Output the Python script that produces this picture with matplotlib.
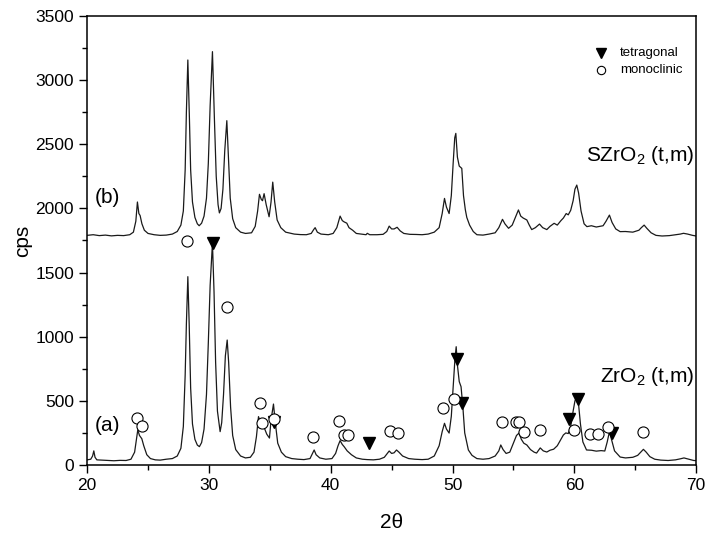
import matplotlib
matplotlib.use("Agg")
import matplotlib.pyplot as plt
from matplotlib.ticker import MultipleLocator

plt.rcParams['font.family'] = ['Liberation Sans', 'DejaVu Sans']
plt.rcParams['mathtext.fontset'] = 'custom'
plt.rcParams['mathtext.rm'] = 'Liberation Sans'
plt.rcParams['mathtext.it'] = 'Liberation Serif:italic'

# (b) SZrO2 pattern: 2theta, cps
b_x = [20.0, 20.5, 21.0, 21.5, 22.0, 22.5, 23.0, 23.5, 23.8, 24.0, 24.13, 24.25, 24.35, 24.5, 24.7, 25.0, 25.5, 26.0, 26.5, 27.0,
       27.4, 27.7, 27.9, 28.05, 28.15, 28.27, 28.4, 28.5, 28.65, 28.85, 29.05, 29.2, 29.4, 29.6, 29.8, 29.95, 30.1, 30.29, 30.45, 30.6,
       30.75, 30.86, 31.0, 31.15, 31.3, 31.47, 31.6, 31.75, 31.95, 32.2, 32.6, 33.0, 33.5, 33.8, 34.0, 34.15, 34.3, 34.4, 34.53, 34.7,
       34.94, 35.1, 35.24, 35.4, 35.6, 35.9, 36.3, 37.0, 37.5, 38.0, 38.4, 38.6, 38.72, 38.9, 39.2, 39.8, 40.2, 40.5, 40.77, 40.95,
       41.1, 41.32, 41.5, 41.8, 42.1, 42.5, 42.9, 43.0, 43.2, 43.8, 44.3, 44.6, 44.8, 45.0, 45.2, 45.45, 45.7, 46.0, 46.5, 47.0,
       47.5, 48.0, 48.5, 48.9, 49.15, 49.34, 49.5, 49.72, 49.9, 50.05, 50.18, 50.27, 50.4, 50.55, 50.76, 50.9, 51.05, 51.17, 51.4, 51.7,
       52.0, 52.5, 53.0, 53.5, 53.8, 54.1, 54.3, 54.6, 54.9, 55.2, 55.41, 55.6, 55.8, 56.1, 56.3, 56.5, 56.8, 57.14, 57.4, 57.74,
       58.0, 58.34, 58.6, 58.9, 59.1, 59.33, 59.5, 59.7, 59.9, 60.05, 60.2, 60.35, 60.55, 60.8, 61.03, 61.4, 61.8, 62.1, 62.36, 62.6,
       62.88, 63.1, 63.4, 63.76, 64.2, 64.8, 65.3, 65.5, 65.73, 65.95, 66.3, 66.7, 67.2, 67.8, 68.3, 68.7, 68.96, 69.3, 69.7, 70.0]
b_y = [1790, 1795, 1788, 1792, 1786, 1790, 1788, 1795, 1815, 1900, 2050, 1960, 1945, 1880, 1830, 1805, 1795, 1790, 1792, 1800,
       1820, 1870, 1980, 2300, 2750, 3157, 2700, 2300, 2050, 1930, 1880, 1865, 1885, 1940, 2080, 2350, 2800, 3222, 2700, 2250,
       2030, 1965, 2000, 2150, 2450, 2684, 2400, 2080, 1920, 1850, 1815, 1805, 1810, 1860, 1980, 2110, 2070, 2060, 2115, 2030,
       1935, 2050, 2205, 2050, 1910, 1850, 1815, 1800, 1796, 1795, 1805, 1835, 1850, 1815, 1800, 1795, 1805, 1850, 1940, 1905,
       1895, 1885, 1850, 1830, 1805, 1800, 1795, 1806, 1795, 1795, 1798, 1820, 1862, 1840, 1840, 1853, 1825, 1805, 1798, 1797,
       1795, 1800, 1815, 1850, 1960, 2078, 2010, 1960, 2100, 2350, 2550, 2585, 2400, 2330, 2312, 2100, 1990, 1930, 1870, 1820,
       1795, 1792, 1800, 1810, 1850, 1915, 1880, 1845, 1870, 1940, 1988, 1940, 1925, 1910, 1870, 1835, 1850, 1878, 1850, 1835,
       1860, 1884, 1870, 1905, 1925, 1960, 1950, 1985, 2060, 2150, 2182, 2120, 1980, 1880, 1858, 1865, 1855, 1860, 1865, 1900,
       1948, 1890, 1840, 1819, 1820, 1815, 1830, 1850, 1870, 1845, 1810, 1790, 1785, 1788, 1795, 1800, 1806, 1800, 1790, 1785]

# (a) ZrO2 pattern: 2theta, cps
a_x = [20.0, 20.3, 20.45, 20.55, 20.65, 20.8, 21.2, 21.7, 22.2, 22.7, 23.2, 23.6, 23.9, 24.05, 24.16, 24.3, 24.49, 24.65, 24.9, 25.2,
       25.6, 26.0, 26.5, 27.0, 27.4, 27.7, 27.9, 28.05, 28.15, 28.27, 28.38, 28.5, 28.65, 28.85, 29.05, 29.22, 29.4, 29.6, 29.8, 29.95,
       30.1, 30.29, 30.42, 30.55, 30.7, 30.92, 31.05, 31.2, 31.35, 31.5, 31.62, 31.78, 31.95, 32.2, 32.6, 33.0, 33.4, 33.7, 33.9, 34.07,
       34.2, 34.35, 34.5, 34.75, 34.97, 35.1, 35.3, 35.45, 35.65, 35.95, 36.3, 36.8, 37.3, 37.8, 38.3, 38.5, 38.64, 38.8, 39.1, 39.6,
       40.1, 40.4, 40.6, 40.77, 40.95, 41.1, 41.35, 41.7, 42.1, 42.6, 43.0, 43.5, 44.0, 44.4, 44.65, 44.8, 45.0, 45.2, 45.4, 45.6,
       45.9, 46.4, 46.9, 47.5, 48.0, 48.5, 48.9, 49.15, 49.34, 49.5, 49.72, 49.9, 50.05, 50.2, 50.3, 50.4, 50.55, 50.7, 50.85, 51.0,
       51.3, 51.6, 52.0, 52.5, 53.0, 53.5, 53.8, 53.96, 54.15, 54.4, 54.7, 55.0, 55.25, 55.46, 55.65, 55.85, 56.1, 56.4, 56.7, 56.9,
       57.2, 57.45, 57.74, 58.0, 58.3, 58.6, 58.9, 59.1, 59.3, 59.5, 59.7, 59.9, 60.05, 60.2, 60.35, 60.5, 60.7, 61.0, 61.4, 61.8,
       62.2, 62.5, 62.7, 62.88, 63.05, 63.3, 63.76, 64.2, 64.8, 65.2, 65.45, 65.67, 65.9, 66.2, 66.6, 67.1, 67.7, 68.3, 68.7, 69.0,
       69.4, 69.8, 70.0]
a_y = [40, 45, 70, 110, 60, 40, 38, 35, 33, 36, 35, 45, 100, 200, 273, 230, 205, 150, 80, 50,
       40, 38, 45, 50, 70, 130, 300, 700, 1100, 1468, 1100, 600, 320, 200, 155, 143, 175, 280, 550, 950,
       1400, 1730, 1350, 800, 420, 260, 330, 550, 850, 974, 800, 450, 230, 120, 70, 55, 60, 100, 220, 377,
       340, 360, 300, 240, 210, 350, 475, 330, 170, 100, 65, 50, 45, 42, 50, 90, 117, 80, 55, 45,
       50, 90, 150, 190, 160, 143, 110, 80, 55, 45, 42, 40, 45, 60, 90, 109, 90, 95, 117, 100,
       70, 50, 45, 42, 45, 70, 150, 260, 325, 280, 249, 380, 600, 830, 922, 780, 650, 610, 450, 250,
       117, 75, 50, 45, 50, 70, 110, 156, 120, 90, 100, 170, 230, 249, 200, 170, 156, 120, 100, 93,
       133, 110, 101, 115, 123, 150, 200, 234, 250, 245, 300, 420, 500, 532, 470, 320, 180, 117, 115, 108,
       112, 109, 180, 260, 200, 110, 62, 55, 60, 75, 100, 122, 100, 65, 45, 38, 35, 40, 48, 55,
       45, 35, 34]

# Phase markers
tet_x = [30.32, 35.33, 43.18, 50.4, 50.76, 59.6, 60.26, 63.07]
tet_y = [1728, 338, 169, 824, 481, 356, 512, 252]
mono_x = [24.08, 24.49, 28.18, 31.52, 34.2, 34.39, 35.35, 38.58, 40.71, 41.1, 41.4, 44.85, 45.56,
          49.25, 50.08, 54.1, 55.22, 55.44, 55.88, 57.14, 60.0, 61.3, 61.98, 62.8, 65.67]
mono_y = [369, 306, 1746, 1234, 486, 325, 358, 215, 345, 234, 234, 265, 252,
          447, 512, 333, 333, 333, 255, 273, 273, 242, 242, 294, 260]

fig = plt.figure(figsize=(7.14, 5.33), dpi=100)
ax = fig.add_axes([0.122, 0.1276, 0.853, 0.8424])

ax.plot(b_x, b_y, color='#1a1a1a', lw=0.9)
ax.plot(a_x, a_y, color='#1a1a1a', lw=0.9)
ax.plot(tet_x, tet_y, linestyle='none', marker='v', ms=8, color='black', zorder=3)
ax.plot(mono_x, mono_y, linestyle='none', marker='o', ms=8, mfc='white', mec='black', mew=0.8, zorder=4)

# legend drawn as markers + text
ax.plot([62.18], [3209], linestyle='none', marker='v', ms=7, color='black')
ax.plot([62.18], [3079], linestyle='none', marker='o', ms=6, mfc='white', mec='black', mew=0.8)
ax.text(63.76, 3209, 'tetragonal', fontsize=9.5, va='center', ha='left')
ax.text(63.76, 3079, 'monoclinic', fontsize=9.5, va='center', ha='left')

ax.text(21.7, 2089, '(b)', fontsize=15, va='center', ha='center')
ax.text(21.7, 306, '(a)', fontsize=15, va='center', ha='center')
ax.text(69.85, 2416, r'SZrO$_2$ (t,m)', fontsize=15, va='center', ha='right')
ax.text(69.85, 686, r'ZrO$_2$ (t,m)', fontsize=15, va='center', ha='right')

ax.set_xlim(20, 70)
ax.set_ylim(0, 3500)
ax.xaxis.set_major_locator(MultipleLocator(10))
ax.xaxis.set_minor_locator(MultipleLocator(5))
ax.yaxis.set_major_locator(MultipleLocator(500))
ax.yaxis.set_minor_locator(MultipleLocator(250))
ax.tick_params(which='both', direction='out', top=False, right=False, labelsize=12.5)
ax.tick_params(which='major', length=6, width=1)
ax.tick_params(which='minor', length=3.5, width=1)
for s in ax.spines.values():
    s.set_linewidth(1.1)

ax.set_xlabel('2θ', fontsize=15, labelpad=14)
ax.set_ylabel('cps', fontsize=15, labelpad=2)

fig.savefig('out.png', dpi=100)
